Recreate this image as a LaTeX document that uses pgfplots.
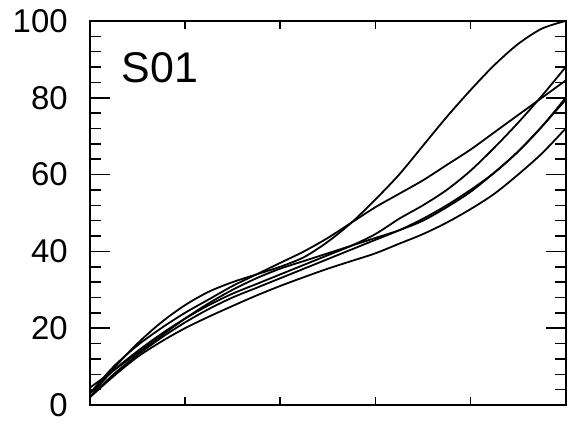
\documentclass[border=0pt]{standalone}
\usepackage{fontspec}
\setmainfont{Liberation Sans}
\usepackage{pgfplots}
\pgfplotsset{compat=1.18}
\usepackage{pgfplotstable}
\pgfplotstableread{
x    A     B     C     D     E     F
0    2.0   3.0   3.0   2.0   4.5   2.0
0.25 9.5   10.0  9.0   8.0   9.0   7.5
0.5  16.0  15.5  14.0  13.0  13.5  12.5
0.75 21.5  20.0  18.5  17.5  18.0  16.5
1    26.0  24.0  22.5  21.5  22.5  20.0
1.25 29.5  27.5  26.0  25.0  26.5  23.0
1.5  32.0  31.0  29.0  28.0  30.0  25.8
1.75 34.0  34.0  31.5  30.5  33.0  28.5
2    36.0  37.0  34.0  33.0  35.5  31.0
2.25 38.5  40.0  36.5  35.5  37.5  33.3
2.5  42.5  43.5  39.0  38.0  39.5  35.5
2.75 47.5  47.5  41.5  40.5  41.5  37.5
3    53.5  51.5  44.5  43.0  43.5  39.5
3.25 60.0  55.0  48.5  45.5  45.5  42.0
3.5  67.5  58.5  52.0  48.5  48.0  44.5
3.75 75.0  62.5  56.0  52.0  51.5  47.5
4    82.0  66.5  61.0  56.0  55.5  51.0
4.25 88.5  71.0  67.0  60.5  60.5  55.0
4.5  94.0  75.5  73.5  66.0  66.0  60.0
4.75 98.0  80.0  80.5  72.5  72.5  65.5
5    100.0 84.5  88.0  79.5  80.0  72.0
}\curves
\pgfplotsset{
  base/.style={
    scale only axis,
    width=477pt, height=385pt,
    xmin=0, xmax=5, ymin=0, ymax=100,
    axis line style={line width=2pt},
    tick align=inside,
    tick style={line width=1.5pt, black},
  }
}
\begin{document}
\begin{tikzpicture}
\begin{axis}[base,
  xtick={0,1,2,3,4,5}, xticklabels={},
  ytick=\empty,
  major tick length=8pt,
]
\end{axis}
\begin{axis}[base,
  xtick=\empty,
  ytick={0,20,40,60,80,100},
  minor y tick num=4,
  major tick length=20pt,
  minor tick length=11pt,
  /pgf/number format/assume math mode=true,
  yticklabel style={font=\fontsize{33}{33}\selectfont, inner sep=0pt, xshift=-22pt},
  clip=false,
]
\foreach \c in {A,B,C,D,E,F}{
  \addplot[black, line width=1.8pt, smooth, no marks] table[x=x, y=\c] {\curves};
}
\node[anchor=base west, inner sep=0pt, font=\fontsize{43}{43}\selectfont] at (rel axis cs:0.067,0.839) {S01};
\end{axis}
\path (current axis.south west) +(-90pt,-19pt);
\path (current axis.north east) +(2pt,21pt);
\end{tikzpicture}
\end{document}
